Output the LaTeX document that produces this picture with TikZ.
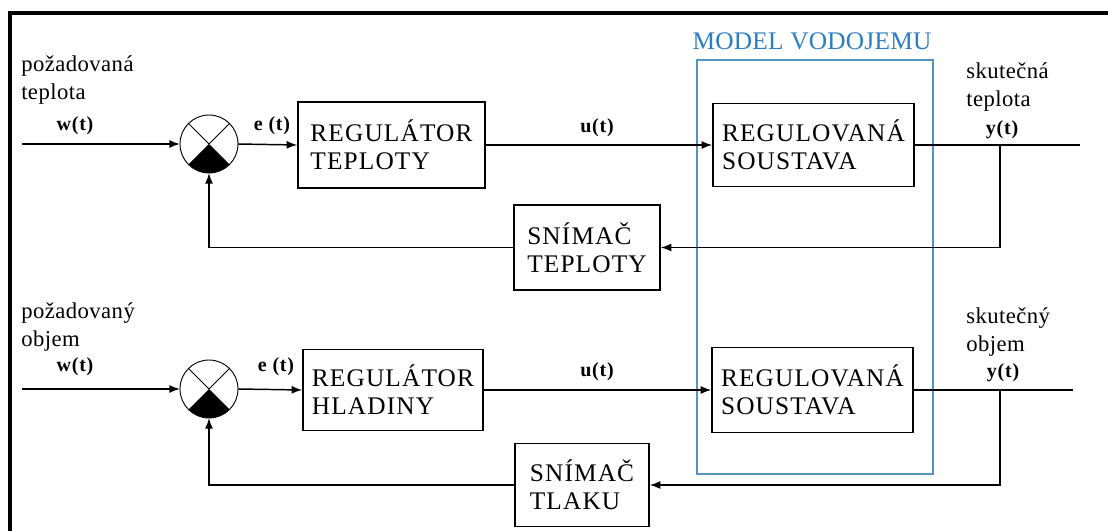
\documentclass[tikz,border=0pt]{standalone}
\usepackage{fontspec}
\setmainfont{Liberation Serif}
\newfontfamily\boxfont[LetterSpace=4.5]{Liberation Serif}
\newfontfamily\modelfont[LetterSpace=1]{Liberation Serif}
\newfontfamily\lblfont[LetterSpace=2]{Liberation Serif}
\newfontfamily\sigfont[LetterSpace=4]{Liberation Serif}
\usetikzlibrary{arrows.meta}
\definecolor{modelline}{RGB}{84,148,190}
\definecolor{modeltext}{RGB}{45,125,195}
\begin{document}
\begin{tikzpicture}[x=0.75pt,y=-0.75pt,
  >={Latex[length=8pt,width=6pt]},
  blk/.style={draw, line width=1.1pt, align=left, inner sep=0pt,
    font=\boxfont\fontsize{19}{21}\selectfont},
  sumj/.style={circle, draw, line width=0.7pt, minimum size=43.5pt, inner sep=0pt, outer sep=0pt},
  conn/.style={line width=1.1pt},
  sig/.style={font=\sigfont\bfseries\fontsize{15}{17}\selectfont, inner sep=0pt},
  lbl/.style={font=\lblfont\fontsize{17}{21}\selectfont, align=left, inner sep=0pt, anchor=west},
]
\useasboundingbox (0,0) rectangle (1108,531);
\fill[white] (0,0) rectangle (1108,531);
% frame
\draw[line width=2.4pt] (10,531) -- (10,13) -- (1108,13);

% model box
\node[draw=modelline, line width=1pt, minimum width=177pt, minimum height=310.5pt, inner sep=0pt] (model) at (815,267) {};
\node[font=\modelfont\fontsize{19}{21}\selectfont, text=modeltext, inner sep=0pt] (modellbl) at (812,41) {MODEL VODOJEMU};

% row 1
\node[sumj] (sum1) at (209,144) {};
\draw[line width=0.7pt] (sum1.center) -- (sum1.north west) (sum1.center) -- (sum1.north east);
\fill (sum1.center) -- (sum1.south west) arc[start angle=225, end angle=315, radius=21.75pt] -- cycle;
\node[blk, minimum width=140.25pt, minimum height=64.5pt] (reg1) at (391.5,145) {REGULÁTOR\\TEPLOTY};
\node[blk, minimum width=150.75pt, minimum height=62.25pt] (sys1) at (813.5,145) {REGULOVANÁ\\SOUSTAVA};
\node[blk, minimum width=109.5pt, minimum height=63.75pt] (snim1) at (587,247.5) {SNÍMAČ\\TEPLOTY};
\coordinate (in1) at (22,144);
\coordinate (out1) at (1080,145);
\coordinate (tap1) at (1000,145);

\draw[conn,->] (in1) -- (sum1.west);
\draw[conn,->] (sum1.east) -- (reg1.west);
\draw[conn,->] (reg1.east) -- (sys1.west);
\draw[conn] (sys1.east) -- (out1);
\draw[conn,->] (tap1) |- (snim1.east);
\draw[conn,->] (snim1.west) -| (sum1.south);

\node[lbl] (req1) at (21,80) {požadovaná\\teplota};
\node[sig] (w1) at (75,126) {w(t)};
\node[sig] (e1) at (272,126) {e (t)};
\node[sig] (u1) at (597,128) {u(t)};
\node[lbl] (act1) at (966,87) {skutečná\\teplota};
\node[sig] (y1) at (1002,130) {y(t)};

% row 2
\node[sumj] (sum2) at (209,389) {};
\draw[line width=0.7pt] (sum2.center) -- (sum2.north west) (sum2.center) -- (sum2.north east);
\fill (sum2.center) -- (sum2.south west) arc[start angle=225, end angle=315, radius=21.75pt] -- cycle;
\node[blk, minimum width=135pt, minimum height=60.75pt] (reg2) at (393,390) {REGULÁTOR\\HLADINY};
\node[blk, minimum width=150.75pt, minimum height=63.75pt] (sys2) at (812.5,390) {REGULOVANÁ\\SOUSTAVA};
\node[blk, minimum width=100.5pt, minimum height=62.25pt] (snim2) at (582,485) {SNÍMAČ\\TLAKU};
\coordinate (in2) at (22,389);
\coordinate (out2) at (1073,390);
\coordinate (tap2) at (1000,390);

\draw[conn,->] (in2) -- (sum2.west);
\draw[conn,->] (sum2.east) -- (reg2.west);
\draw[conn,->] (reg2.east) -- (sys2.west);
\draw[conn] (sys2.east) -- (out2);
\draw[conn,->] (tap2) |- (snim2.east);
\draw[conn,->] (snim2.west) -| (sum2.south);

\node[lbl] (req2) at (21,327) {požadovaný\\objem};
\node[sig] (w2) at (75,367) {w(t)};
\node[sig] (e2) at (276,367) {e (t)};
\node[sig] (u2) at (597,372) {u(t)};
\node[lbl] (act2) at (966,332) {skutečný\\objem};
\node[sig] (y2) at (1003,373) {y(t)};
\end{tikzpicture}
\end{document}
